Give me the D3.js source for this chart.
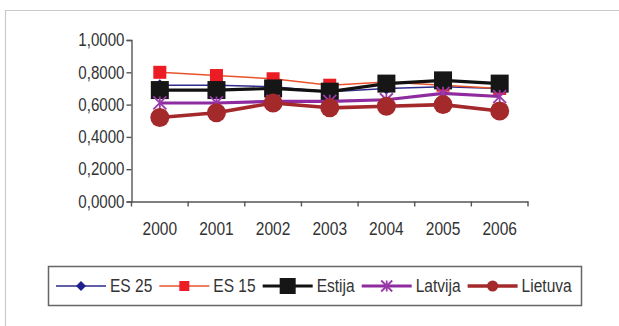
<!DOCTYPE html>
<html>
<head>
<meta charset="utf-8">
<script src="https://cdn.jsdelivr.net/npm/d3@7/dist/d3.min.js"></script>
<style>
  html, body { margin: 0; padding: 0; background: #fff; }
  svg { display: block; }
  text { font-family: "Liberation Sans", Arial, sans-serif; fill: #333; }
</style>
</head>
<body>
<svg id="chart" width="619" height="326"></svg>
<script>
// Years on the category axis
const years = ["2000", "2001", "2002", "2003", "2004", "2005", "2006"];

// Index values per series
const es25    = [0.72, 0.72, 0.71, 0.68, 0.70, 0.71, 0.70];
const es15    = [0.80, 0.78, 0.76, 0.72, 0.74, 0.72, 0.70];
const estija  = [0.69, 0.69, 0.70, 0.68, 0.73, 0.75, 0.73];
const latvija = [0.61, 0.61, 0.62, 0.62, 0.63, 0.67, 0.65];
const lietuva = [0.52, 0.55, 0.61, 0.58, 0.59, 0.60, 0.56];

const seriesNames = ["ES 25", "ES 15", "Estija", "Latvija", "Lietuva"];
const yTicks = [0, 0.2, 0.4, 0.6, 0.8, 1.0];

// Styling per series (line colour/width, marker shape/colour/size)
const styles = [
  { line: "#2e2b8c", width: 1.5, marker: "diamond", fill: "#1f1f8f", size: 12, lsize: 10 },
  { line: "#e8532c", width: 1.5, marker: "square",  fill: "#ec1c24", size: 13, lsize: 10 },
  { line: "#111111", width: 3.2, marker: "square",  fill: "#161616", size: 18, lsize: 16 },
  { line: "#8e2b9e", width: 3.2, marker: "star",    fill: "#9a3aab", size: 13, lsize: 11 },
  { line: "#a3292b", width: 3.6, marker: "circle",  fill: "#a3292b", size: 19, lsize: 11 }
];
const values = [es25, es15, estija, latvija, lietuva];

// Condensed look: squeeze glyphs horizontally around the text's own x
const SQUEEZE = 0.84;
function narrow(sel) {
  sel.each(function () {
    const t = d3.select(this);
    const x0 = +t.attr("x") || 0;
    t.attr("x", x0 / SQUEEZE).attr("transform", `scale(${SQUEEZE},1)`);
  });
}

const svg = d3.select("#chart");

// Outer frame (top and left edges visible)
svg.append("path")
  .attr("d", "M5.5,326 V10.5 H619")
  .attr("fill", "none")
  .attr("stroke", "#c9c9c9")
  .attr("stroke-width", 1.2);

const x = d3.scaleBand().domain(years).range([131.5, 528]).padding(0);
const y = d3.scaleLinear().domain([0, 1]).range([201.5, 40]);

const axisColor = "#555";

// Y axis
const yAxis = d3.axisLeft(y)
  .tickValues(yTicks)
  .tickSize(5)
  .tickPadding(2)
  .tickFormat(d => d3.format(".4f")(d).replace(".", ","));
const gy = svg.append("g").attr("transform", "translate(131.5,0)").call(yAxis);
gy.select(".domain").attr("stroke", axisColor).attr("stroke-width", 1.4);
gy.selectAll(".tick line").attr("stroke", axisColor).attr("stroke-width", 1.4);
gy.selectAll(".tick text").style("font-size", "18px").attr("fill", "#333").call(narrow);

// X axis: labels at band centres, tick marks at band boundaries
const xAxis = d3.axisBottom(x).tickSize(0).tickPadding(20);
const gx = svg.append("g").attr("transform", "translate(0,201.5)").call(xAxis);
gx.select(".domain").attr("stroke", axisColor).attr("stroke-width", 1.4);
gx.selectAll(".tick text").style("font-size", "18.5px").attr("fill", "#333").call(narrow);
const bounds = years.map(d => x(d)).concat([x.range()[1]]);
gx.selectAll(".bound")
  .data(bounds)
  .enter().append("line")
  .attr("class", "bound")
  .attr("x1", d => d).attr("x2", d => d)
  .attr("y1", 0).attr("y2", 5)
  .attr("stroke", axisColor).attr("stroke-width", 1.4);

// Marker drawing
function marker(g, type, cx, cy, size, fill) {
  const h = size / 2;
  if (type === "square") {
    g.append("rect").attr("x", cx - h).attr("y", cy - h)
      .attr("width", size).attr("height", size).attr("fill", fill);
  } else if (type === "diamond") {
    g.append("path")
      .attr("d", `M${cx},${cy - h} L${cx + h},${cy} L${cx},${cy + h} L${cx - h},${cy} Z`)
      .attr("fill", fill);
  } else if (type === "circle") {
    g.append("circle").attr("cx", cx).attr("cy", cy).attr("r", h).attr("fill", fill);
  } else if (type === "star") {
    g.append("path")
      .attr("d", `M${cx - h},${cy - h} L${cx + h},${cy + h} M${cx + h},${cy - h} L${cx - h},${cy + h} M${cx},${cy - h} L${cx},${cy + h}`)
      .attr("stroke", fill).attr("stroke-width", 1.8).attr("fill", "none");
  }
}

const lineGen = d3.line()
  .x((d, i) => x(years[i]) + x.bandwidth() / 2)
  .y(d => y(d));

// Series lines and markers
values.forEach((vals, si) => {
  const st = styles[si];
  const g = svg.append("g");
  g.append("path")
    .attr("d", lineGen(vals))
    .attr("fill", "none")
    .attr("stroke", st.line)
    .attr("stroke-width", st.width)
    .attr("stroke-linejoin", "round");
  vals.forEach((v, i) => {
    marker(g, st.marker, x(years[i]) + x.bandwidth() / 2, y(v), st.size, st.fill);
  });
});

// Legend
const legend = svg.append("g");
legend.append("rect")
  .attr("x", 48.5).attr("y", 266.5)
  .attr("width", 533).attr("height", 39)
  .attr("fill", "#fff")
  .attr("stroke", "#666")
  .attr("stroke-width", 1.5);

let lx = 56;
const ly = 286;
seriesNames.forEach((name, si) => {
  const st = styles[si];
  const g = legend.append("g");
  g.append("line")
    .attr("x1", lx).attr("x2", lx + 50)
    .attr("y1", ly).attr("y2", ly)
    .attr("stroke", st.line).attr("stroke-width", st.width);
  marker(g, st.marker, lx + 25, ly, st.lsize, st.fill);
  const t = g.append("text")
    .attr("x", lx + 54).attr("y", ly)
    .attr("dy", "0.35em")
    .style("font-size", "18.5px")
    .text(name);
  const w = t.node().getComputedTextLength() * SQUEEZE;
  t.call(narrow);
  lx = lx + 54 + w + 7;
});
</script>
</body>
</html>
